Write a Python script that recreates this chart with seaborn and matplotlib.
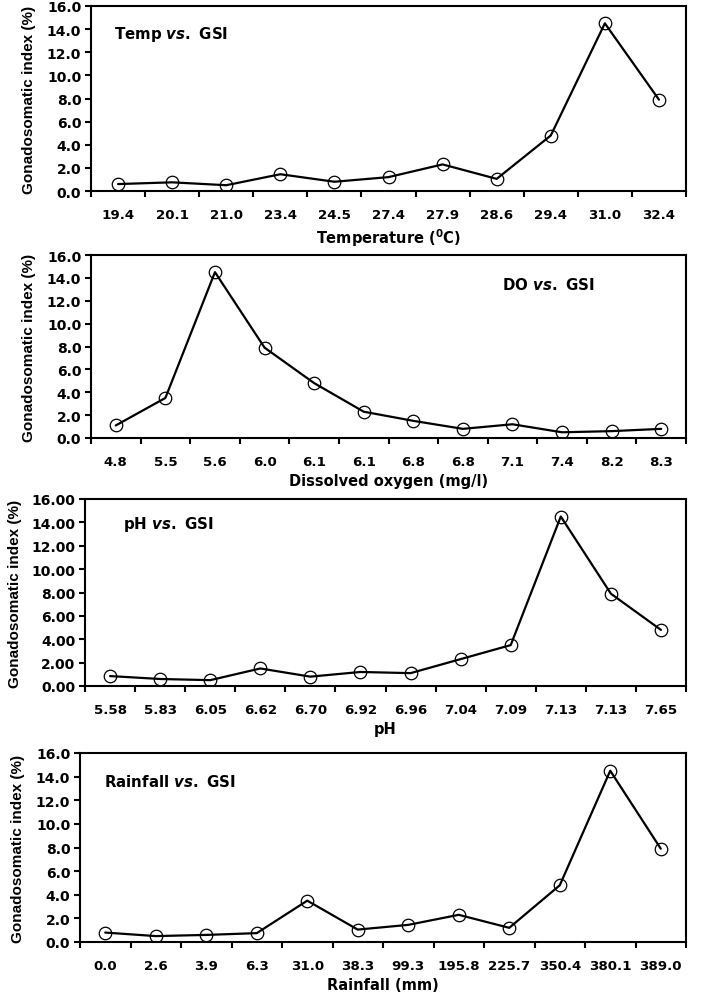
import numpy as np
import pandas as pd
import matplotlib.pyplot as plt
import seaborn as sns
from matplotlib.ticker import FormatStrFormatter

sns.set_theme(style='ticks')
plt.rcParams['font.family'] = ['DejaVu Sans']
plt.rcParams['font.weight'] = 'bold'
plt.rcParams['mathtext.fontset'] = 'custom'
plt.rcParams['mathtext.rm'] = 'DejaVu Sans:bold'
plt.rcParams['mathtext.bf'] = 'DejaVu Sans:bold'
plt.rcParams['mathtext.it'] = 'DejaVu Sans:italic:bold'

# GSI (%) against each parameter
temp_labels = ['19.4', '20.1', '21.0', '23.4', '24.5', '27.4', '27.9', '28.6', '29.4', '31.0', '32.4']
temp_gsi = [0.6, 0.75, 0.5, 1.45, 0.8, 1.2, 2.3, 1.05, 4.8, 14.5, 7.9]

do_labels = ['4.8', '5.5', '5.6', '6.0', '6.1', '6.1', '6.8', '6.8', '7.1', '7.4', '8.2', '8.3']
do_gsi = [1.1, 3.5, 14.5, 7.9, 4.8, 2.3, 1.5, 0.8, 1.2, 0.5, 0.6, 0.8]

ph_labels = ['5.58', '5.83', '6.05', '6.62', '6.70', '6.92', '6.96', '7.04', '7.09', '7.13', '7.13', '7.65']
ph_gsi = [0.85, 0.6, 0.5, 1.5, 0.8, 1.2, 1.1, 2.3, 3.5, 14.5, 7.9, 4.8]

rain_labels = ['0.0', '2.6', '3.9', '6.3', '31.0', '38.3', '99.3', '195.8', '225.7', '350.4', '380.1', '389.0']
rain_gsi = [0.8, 0.5, 0.6, 0.75, 3.5, 1.05, 1.45, 2.3, 1.2, 4.8, 14.5, 7.9]

panels = [
    (temp_labels, temp_gsi, r'Temperature ($^{0}$C)', r'Temp $\mathit{vs.}$ GSI', (0.038, 0.85), '%.1f',
     [91, 7, 686, 192], 36),
    (do_labels, do_gsi, 'Dissolved oxygen (mg/l)', r'DO $\mathit{vs.}$ GSI', (0.69, 0.84), '%.1f',
     [91, 256, 686, 439], 36),
    (ph_labels, ph_gsi, 'pH', r'pH $\mathit{vs.}$ GSI', (0.063, 0.87), '%.2f',
     [85, 500, 686, 687], 22),
    (rain_labels, rain_gsi, 'Rainfall (mm)', r'Rainfall $\mathit{vs.}$ GSI', (0.039, 0.85), '%.1f',
     [80, 754, 686, 943], 25),
]

W, H = 703, 1004
fig = plt.figure(figsize=(W / 100, H / 100), dpi=100)

for labels, gsi, xlabel, note, note_xy, fmt, box, ylab_x in panels:
    x0, y0, x1, y1 = box
    ax = fig.add_axes([x0 / W, (H - y1) / H, (x1 - x0) / W, (y1 - y0) / H])
    n = len(labels)
    df = pd.DataFrame({'pos': np.arange(n), 'gsi': gsi})
    sns.lineplot(data=df, x='pos', y='gsi', ax=ax, color='black', linewidth=1.6,
                 marker='o', markersize=9, markerfacecolor='none',
                 markeredgecolor='black', markeredgewidth=0.9)

    ax.set_xlim(-0.5, n - 0.5)
    ax.set_ylim(0, 16)
    ax.set_xticks(np.arange(n))
    ax.set_xticklabels(labels)
    ax.set_xticks(np.arange(n + 1) - 0.5, minor=True)
    ax.set_yticks(np.arange(0, 17, 2))
    ax.yaxis.set_major_formatter(FormatStrFormatter(fmt))
    ax.tick_params(axis='x', which='major', length=0, pad=12, labelsize=9.6)
    ax.tick_params(axis='x', which='minor', length=4, width=1.5, direction='out', color='black')
    ax.tick_params(axis='y', length=4, width=1.5, direction='out', pad=3, labelsize=10, color='black')
    for lab in ax.get_xticklabels() + ax.get_yticklabels():
        lab.set_fontweight('bold')
        lab.set_color('black')
    for s in ax.spines.values():
        s.set_linewidth(1.5)
        s.set_color('black')

    ax.set_xlabel(xlabel, fontsize=10.5, fontweight='bold', color='black', labelpad=4)
    ax.set_ylabel('Gonadosomatic index (%)', fontsize=11, fontweight='bold', color='black',
                  family='Liberation Sans')
    ax.yaxis.set_label_coords((ylab_x - x0) / (x1 - x0), 0.5)
    ax.text(note_xy[0], note_xy[1], note, transform=ax.transAxes, fontsize=10.8,
            fontweight='bold', va='center', ha='left', color='black')

fig.savefig('out.png', dpi=100)
plt.close()
